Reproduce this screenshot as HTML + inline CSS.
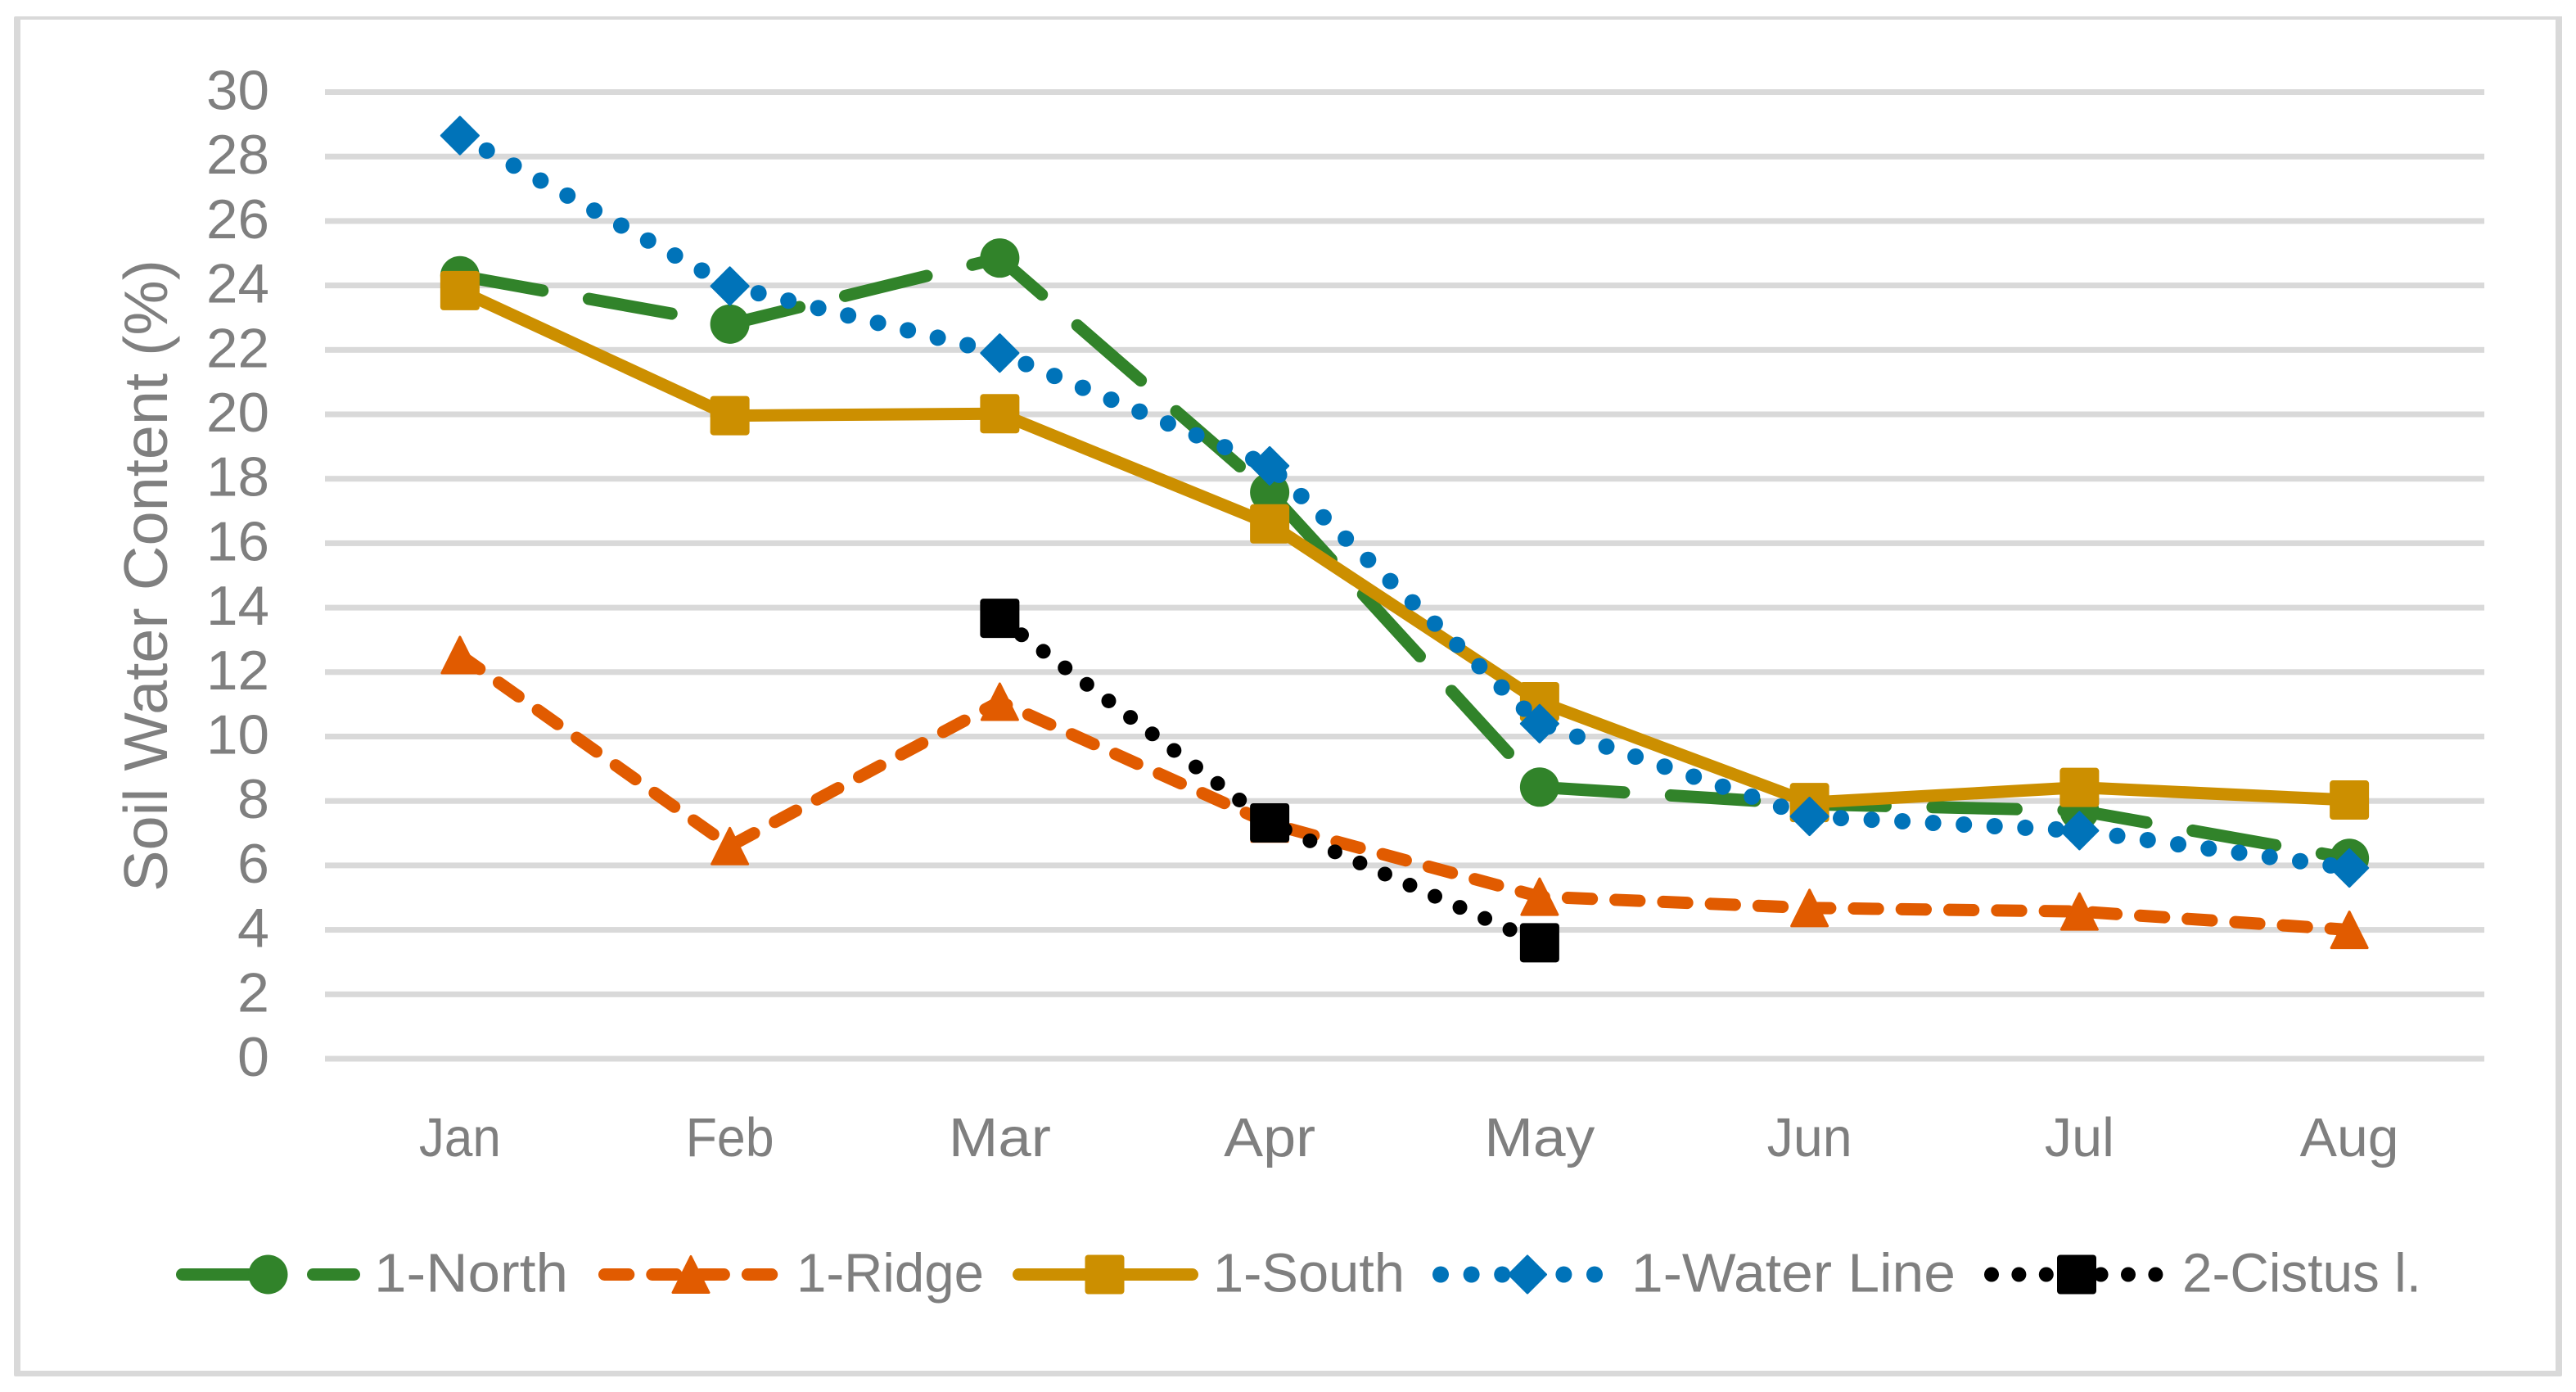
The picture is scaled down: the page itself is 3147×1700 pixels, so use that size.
<!DOCTYPE html>
<html lang="en">
<head>
<meta charset="utf-8">
<title>Soil Water Content by Month</title>
<style>
  html, body { margin: 0; padding: 0; background: #ffffff; }
  svg { display: block; }
  text { font-family: "Liberation Sans", sans-serif; fill: #7f7f7f; }
</style>
</head>
<body>
<svg id="chart" xmlns="http://www.w3.org/2000/svg" width="3147" height="1700" viewBox="0 0 3147 1700">
  <rect x="0" y="0" width="3147" height="1700" fill="#ffffff"/>
  <path fill="#d9d9d9" fill-rule="evenodd" d="M19 20 H3130 V1679 Q3130 1681 3128 1681 H19 Q17 1681 17 1679 V22 Q17 20 19 20 Z M25 24 V1674 H3122 V24 Z"/>
  <g id="grid"></g>
  <g id="y-ticks"></g>
  <g id="x-ticks"></g>
  <text transform="translate(204 1089) rotate(-90)" x="0" y="0" font-size="75" textLength="772" lengthAdjust="spacingAndGlyphs">Soil Water Content (%)</text>
  <g id="series"></g>
  <g id="legend"></g>
</svg>
<script>
// ---- chart data ----
const months = ['Jan', 'Feb', 'Mar', 'Apr', 'May', 'Jun', 'Jul', 'Aug'];
const yTickValues = [0, 2, 4, 6, 8, 10, 12, 14, 16, 18, 20, 22, 24, 26, 28, 30];
const north = [24.3, 22.8, 24.85, 17.58, 8.43, 7.9, 7.7, 6.22];
const ridge = [12.53, 6.6, 11.08, 7.3, 5.03, 4.68, 4.57, 4.0];
const south = [23.84, 19.96, 20.02, 16.6, 11.08, 7.95, 8.42, 8.03];
const waterLine = [28.65, 23.98, 21.9, 18.4, 10.4, 7.52, 7.08, 5.92];
const cistus = [null, null, 13.67, 7.32, 3.6, null, null, null];

// ---- layout ----
const NS = 'http://www.w3.org/2000/svg';
const plotLeft = 397, plotRight = 3035, yZero = 1293, unitPx = 39.35;
const bandWidth = (plotRight - plotLeft) / months.length;
function xScale(i) { return plotLeft + bandWidth * (i + 0.5); }
function yScale(v) { return yZero - v * unitPx; }

const styles = {
  north: { name: '1-north', color: '#31832a', width: 15, dash: '102.5 57.5', cap: 'round', marker: 'circle' },
  ridge: { name: '1-ridge', color: '#e15b00', width: 15, dash: '29.3 29', cap: 'round', marker: 'triangle' },
  south: { name: '1-south', color: '#cc8f00', width: 15, dash: null, cap: 'round', marker: 'square' },
  water: { name: '1-water-line', color: '#0073b9', width: 20, dash: '0 37.6', cap: 'round', marker: 'diamond' },
  cistus: { name: '2-cistus', color: '#000000', width: 18, dash: '0 33.4', cap: 'round', marker: 'square' }
};

function make(tag, parent, attrs) {
  const el = document.createElementNS(NS, tag);
  for (const k in attrs) el.setAttribute(k, attrs[k]);
  parent.appendChild(el);
  return el;
}

// text placed by its ink box: left edge and width in px
function fitText(parent, str, inkLeft, inkWidth, baseline, size) {
  const el = make('text', parent, {
    x: inkLeft - 3, y: baseline, 'font-size': size,
    textLength: inkWidth + 6, lengthAdjust: 'spacingAndGlyphs'
  });
  el.textContent = str;
  return el;
}

function drawMarker(parent, kind, cx, cy, color) {
  const r = 24;
  if (kind === 'circle') {
    return make('circle', parent, { cx: cx, cy: cy, r: r, fill: color });
  }
  if (kind === 'square') {
    return make('rect', parent, { x: cx - r, y: cy - r, width: 2 * r, height: 2 * r, rx: 4, fill: color });
  }
  const pts = kind === 'diamond'
    ? [[cx, cy - r + 1.5], [cx + r - 1.5, cy], [cx, cy + r - 1.5], [cx - r + 1.5, cy]]
    : [[cx, cy - r + 2], [cx + r - 2, cy + r - 2], [cx - r + 2, cy + r - 2]];
  return make('polygon', parent, {
    points: pts.map(p => p.join(',')).join(' '),
    fill: color, stroke: color, 'stroke-width': 3, 'stroke-linejoin': 'round'
  });
}

// ---- gridlines and y ticks ----
const gridGroup = document.getElementById('grid');
const yTickGroup = document.getElementById('y-ticks');
yTickValues.forEach(function (v) {
  const line = make('rect', gridGroup, { x: plotLeft, y: yScale(v) - 3.5, width: plotRight - plotLeft, height: 7, fill: '#d9d9d9' });
  
  
  const label = String(v);
  const w = label.length === 1 ? 33 : 71;
  const t = fitText(yTickGroup, label, 326 - w, w, yScale(v) + 21, 68);
  
  
});

// ---- x ticks (ink widths are a typographic fit, not data) ----
const xGroup = document.getElementById('x-ticks');
const monthInkWidth = { Jan: 94, Feb: 102, Mar: 119, Apr: 106, May: 129, Jun: 98, Jul: 79, Aug: 115 };
months.forEach(function (m, i) {
  const w = monthInkWidth[m] || 105;
  const t = fitText(xGroup, m, xScale(i) - w / 2, w, 1412, 67);
  
  
});

// ---- series ----
const seriesGroup = document.getElementById('series');
function drawSeries(values, st) {
  const g = make('g', seriesGroup, {});
  
  
  const pts = [];
  values.forEach(function (v, i) { if (v !== null) pts.push([xScale(i), yScale(v)]); });
  const attrs = {
    d: 'M' + pts.map(p => p[0].toFixed(2) + ' ' + p[1].toFixed(2)).join(' L'),
    fill: 'none', stroke: st.color, 'stroke-width': st.width,
    'stroke-linecap': st.cap, 'stroke-linejoin': 'round'
  };
  if (st.dash) attrs['stroke-dasharray'] = st.dash;
  const path = make('path', g, attrs);
  
  
  values.forEach(function (v, i) {
    if (v === null) return;
    const mk = drawMarker(g, st.marker, xScale(i), yScale(v), st.color);
    
    
  });
}
drawSeries(north, styles.north);
drawSeries(ridge, styles.ridge);
drawSeries(south, styles.south);
drawSeries(waterLine, styles.water);
drawSeries(cistus, styles.cistus);

// ---- legend ----
const legendGroup = document.getElementById('legend');
const legendY = 1556.5, legendBaseline = 1577.5;
function legendEntry(st, label, lineStart, lineEnd, markerX, textLeft, textWidth) {
  const g = make('g', legendGroup, {});
  
  
  const attrs = {
    x1: lineStart, y1: legendY, x2: lineEnd, y2: legendY,
    stroke: st.color, 'stroke-width': st.width, 'stroke-linecap': st.cap
  };
  if (st.dash) attrs['stroke-dasharray'] = st.dash;
  const sw = make('line', g, attrs);
  
  
  const mk = drawMarker(g, st.marker, markerX, legendY, st.color);
  
  
  const t = fitText(g, label, textLeft, textWidth, legendBaseline, 67);
  
  
}
legendEntry(styles.north, '1-North', 222.5, 432.5, 327.5, 460, 231);
legendEntry(styles.ridge, '1-Ridge', 738.5, 944, 844, 976, 223);
legendEntry(styles.south, '1-South', 1244.5, 1456.5, 1349.5, 1485, 228);
legendEntry(styles.water, '1-Water Line', 1760, 1950, 1866, 1996, 390);
legendEntry(styles.cistus, '2-Cistus l.', 2433, 2634, 2537, 2669, 286);
</script>
</body>
</html>
